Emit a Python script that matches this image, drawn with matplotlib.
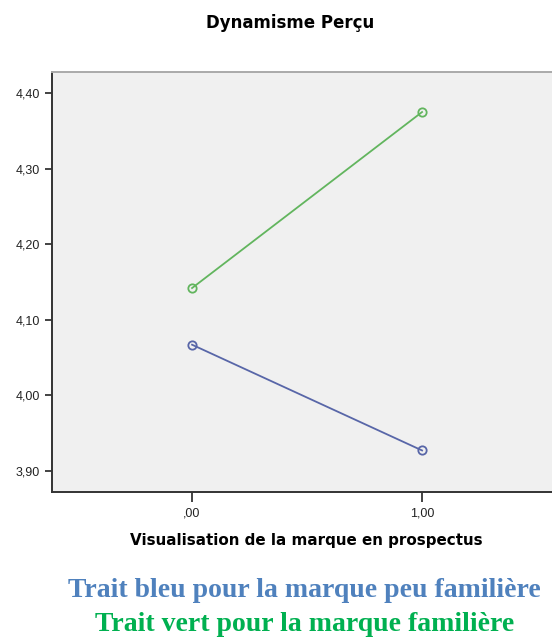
import numpy as np
import matplotlib
matplotlib.use('Agg')
import matplotlib.pyplot as plt

# data
x_vals = [0.0, 1.0]
x_ticklabels = [',00', '1,00']
y_ticks = [3.90, 4.00, 4.10, 4.20, 4.30, 4.40]
y_ticklabels = ['3,90', '4,00', '4,10', '4,20', '4,30', '4,40']
peu_familiere = [4.067, 3.927]   # blue
familiere = [4.142, 4.375]       # green

title = 'Dynamisme Perçu'
xlabel = 'Visualisation de la marque en prospectus'
note_blue = 'Trait bleu pour la marque peu familière'
note_green = 'Trait vert pour la marque familière'

plt.rcParams['font.family'] = ['Liberation Sans', 'DejaVu Sans']

################################################################################
fig = plt.figure(figsize=(5.52, 6.37), dpi=100)
ax = fig.add_axes([52/552., 1-492/637., 1-52/552., (492-72)/637.])
ax.set_facecolor('#f0f0f0')

ax.plot(x_vals, familiere, color='#62b55e', lw=1.3, marker='o', ms=6,
        mfc='none', mec='#62b55e', mew=1.3)
ax.plot(x_vals, peu_familiere, color='#5866a8', lw=1.3, marker='o', ms=6,
        mfc='none', mec='#5866a8', mew=1.3)

ax.set_xlim(-0.609, 1.565)
ax.set_ylim(3.872, 4.428)
ax.set_xticks(x_vals)
ax.set_xticklabels(x_ticklabels)
ax.set_yticks(y_ticks)
ax.set_yticklabels(y_ticklabels)
ax.tick_params(axis='both', labelsize=9, colors='#222222', length=5, width=1.2)
ax.tick_params(axis='x', length=7, pad=4)

ax.spines['left'].set_color('#333333')
ax.spines['left'].set_linewidth(1.4)
ax.spines['bottom'].set_color('#333333')
ax.spines['bottom'].set_linewidth(1.4)
ax.spines['top'].set_color('#aaaaaa')
ax.spines['top'].set_linewidth(1.4)
ax.spines['right'].set_visible(False)

ax.set_xlabel(xlabel, fontsize=10.9, fontweight='bold', family='DejaVu Sans',
              va='baseline')
ax.xaxis.set_label_coords((306-52)/500., -(545-492)/420.)

fig.text(290/552., 1-28/637., title, ha='center', va='baseline',
         fontsize=12, fontweight='bold', family='DejaVu Sans')

fig.text(304/552., 1-597/637., note_blue, ha='center', va='baseline',
         fontsize=20, fontweight='bold', family='Liberation Serif', color='#4f81bd')
fig.text(305/552., 1-631/637., note_green, ha='center', va='baseline',
         fontsize=20, fontweight='bold', family='Liberation Serif', color='#00b050')

plt.savefig('out.png', dpi=100)
